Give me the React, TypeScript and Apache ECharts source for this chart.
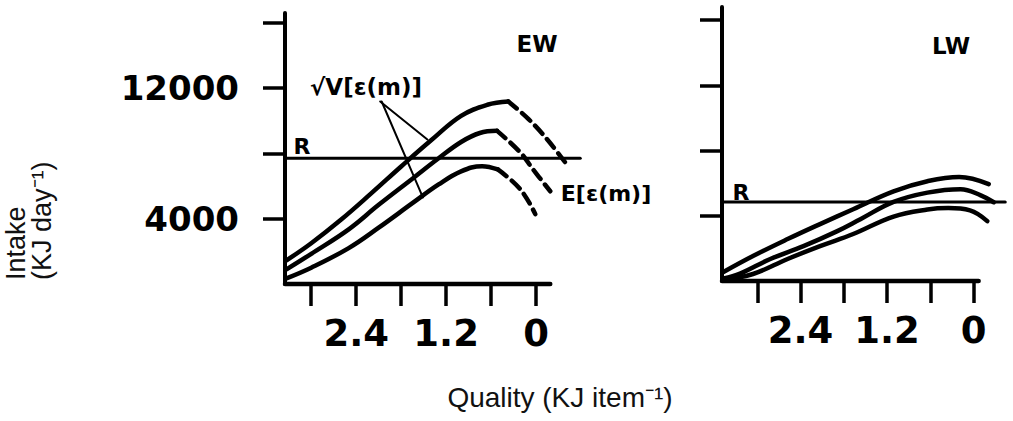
import { useEffect, useRef } from "react";
import * as echarts from "echarts";

// Quality (KJ item^-1) tick values and labels
const qualityTicks = [0, 0.6, 1.2, 1.8, 2.4, 3.0];
const qualityLabels = [0, 1.2, 2.4];
// Intake (KJ day^-1) tick values and labels
const intakeTicks = [4000, 8000, 12000, 16000];
const intakeLabels = [4000, 12000];

// EW panel: [quality, intake]
const ewUpper = [[3.33, 1450], [3.0, 2500], [2.6, 3950], [2.2, 5550], [1.8, 7200], [1.4, 8800], [1.0, 10300], [0.65, 10980], [0.37, 11180]];
const ewUpperDash = [[0.37, 11180], [0.1, 10100], [-0.15, 8850], [-0.43, 7200]];
const ewMean = [[3.33, 900], [3.0, 1850], [2.5, 3350], [2.1, 4850], [1.65, 6450], [1.3, 7700], [1.0, 8700], [0.75, 9250], [0.52, 9380]];
const ewMeanDash = [[0.52, 9380], [0.21, 8060], [0.04, 7020], [-0.19, 5680]];
const ewLower = [[3.33, 350], [3.0, 1000], [2.5, 2200], [2.1, 3450], [1.65, 4950], [1.3, 6100], [1.0, 6900], [0.72, 7220], [0.51, 7020]];
const ewLowerDash = [[0.51, 7020], [0.21, 5800], [0.01, 4280]];
const ewR = 7700;
const ewPointerA = [[2.08, 11180], [1.45, 8850]];
const ewPointerB = [[2.06, 11180], [1.51, 5300]];

// LW panel: [quality, intake]
const lwUpper = [[3.47, 550], [3.06, 1530], [2.58, 2570], [2.13, 3490], [1.67, 4400], [1.11, 5500], [0.64, 6120], [0.2, 6380], [-0.21, 5940]];
const lwMean = [[3.47, 150], [3.24, 450], [2.82, 1350], [2.36, 2140], [1.89, 3060], [1.57, 3790], [1.11, 4850], [0.64, 5420], [0.18, 5630], [-0.1, 5250], [-0.28, 4830]];
const lwLower = [[3.47, 80], [3.06, 430], [2.58, 1350], [2.13, 2140], [1.67, 2880], [1.11, 3950], [0.64, 4380], [0.35, 4470], [0.05, 4330], [-0.19, 3670]];
const lwR = 4850;

const BLACK = "#000";
const BOLD = "DejaVu Sans";
const PLAIN = "Liberation Sans";

function line(data: number[][], idx: number, width: number, dashed = false, smooth: number | boolean = 0.4) {
  return {
    type: "line",
    xAxisIndex: idx,
    yAxisIndex: idx,
    data,
    symbol: "none",
    smooth,
    clip: false,
    silent: true,
    lineStyle: { color: BLACK, width, type: dashed ? [11, 7] : "solid", cap: "round" },
  };
}

function xAxisCfg(idx: number, min: number, max: number) {
  return {
    gridIndex: idx,
    type: "value",
    min,
    max,
    inverse: true,
    axisLine: { show: false, onZero: false },
    axisTick: { show: true, customValues: qualityTicks, length: 22, lineStyle: { color: BLACK, width: 3.5 } },
    axisLabel: {
      show: true,
      customValues: qualityLabels,
      margin: 31,
      fontSize: 37,
      fontWeight: "bold",
      fontFamily: BOLD,
      color: BLACK,
      formatter: (v: number) => (v === 0 ? "0" : v.toFixed(1)),
    },
    splitLine: { show: false },
  };
}

function yAxisCfg(idx: number, max: number, labels: boolean) {
  return {
    gridIndex: idx,
    type: "value",
    min: 0,
    max,
    axisLine: { show: true, onZero: false, lineStyle: { color: BLACK, width: 4 } },
    axisTick: { show: true, customValues: intakeTicks, length: 22, lineStyle: { color: BLACK, width: 3.5 } },
    axisLabel: {
      show: labels,
      customValues: intakeLabels,
      margin: 46,
      fontSize: 34,
      fontWeight: "bold",
      fontFamily: BOLD,
      color: BLACK,
      formatter: (v: number) => String(v),
    },
    splitLine: { show: false },
  };
}

export default function App() {
  const ref = useRef<HTMLDivElement>(null);
  useEffect(() => {
    if (!ref.current) return;
    const chart = echarts.init(ref.current, null, { renderer: "svg" });
    const ewXMax = 3.35;
    const lwXMax = 3.49;
    chart.setOption({
      animation: false,
      backgroundColor: "#fff",
      grid: [
        { left: 285, top: 13, width: 296, height: 271 },
        { left: 722, top: 7, width: 284, height: 274 },
      ],
      xAxis: [xAxisCfg(0, -0.6, ewXMax), xAxisCfg(1, -0.45, lwXMax)],
      yAxis: [yAxisCfg(0, 16600, true), yAxisCfg(1, 16800, false)],
      series: [
        // EW
        line([[ewXMax, 0], [-0.19, 0]], 0, 4.5, false, false),
        line([[ewXMax, ewR], [-0.59, ewR]], 0, 3, false, false),
        line(ewUpper, 0, 4.5),
        line(ewUpperDash, 0, 4.5, true),
        line(ewMean, 0, 4.5),
        line(ewMeanDash, 0, 4.5, true),
        line(ewLower, 0, 4.5),
        line(ewLowerDash, 0, 4.5, true),
        line(ewPointerA, 0, 2, false, false),
        line(ewPointerB, 0, 2, false, false),
        // LW
        line([[lwXMax, 0], [-0.07, 0]], 1, 4.5, false, false),
        line([[lwXMax, lwR], [-0.44, lwR]], 1, 3, false, false),
        line(lwUpper, 1, 4.5),
        line(lwMean, 1, 4.5),
        line(lwLower, 1, 4.5),
      ],
      graphic: [
        { type: "text", x: 537, y: 44, style: { text: "EW", font: `bold 23px ${BOLD}`, fill: BLACK, align: "center", verticalAlign: "middle" } },
        { type: "text", x: 951, y: 46, style: { text: "LW", font: `bold 23px ${BOLD}`, fill: BLACK, align: "center", verticalAlign: "middle" } },
        { type: "text", x: 302, y: 146, style: { text: "R", font: `bold 22px ${BOLD}`, fill: BLACK, align: "center", verticalAlign: "middle" } },
        { type: "text", x: 741, y: 192, style: { text: "R", font: `bold 22px ${BOLD}`, fill: BLACK, align: "center", verticalAlign: "middle" } },
        { type: "text", x: 366, y: 87, style: { text: "√V[ε(m)]", font: `bold 23px ${BOLD}`, fill: BLACK, align: "center", verticalAlign: "middle" } },
        { type: "text", x: 606, y: 193, style: { text: "E[ε(m)]", font: `bold 22px ${BOLD}`, fill: BLACK, align: "center", verticalAlign: "middle" } },
        { type: "text", x: 560, y: 397, style: { text: "Quality (KJ item⁻¹)", font: `28px ${PLAIN}`, fill: "#111", align: "center", verticalAlign: "middle" } },
        {
          type: "text",
          x: 29,
          y: 280,
          rotation: Math.PI / 2,
          style: { text: "Intake\n(KJ day⁻¹)", font: `27px ${PLAIN}`, lineHeight: 26, fill: "#111", align: "left", verticalAlign: "middle" },
        },
      ],
    });
    return () => chart.dispose();
  }, []);
  return <div ref={ref} style={{ position: "fixed", left: 0, top: 0, width: 1013, height: 421 }} />;
}
